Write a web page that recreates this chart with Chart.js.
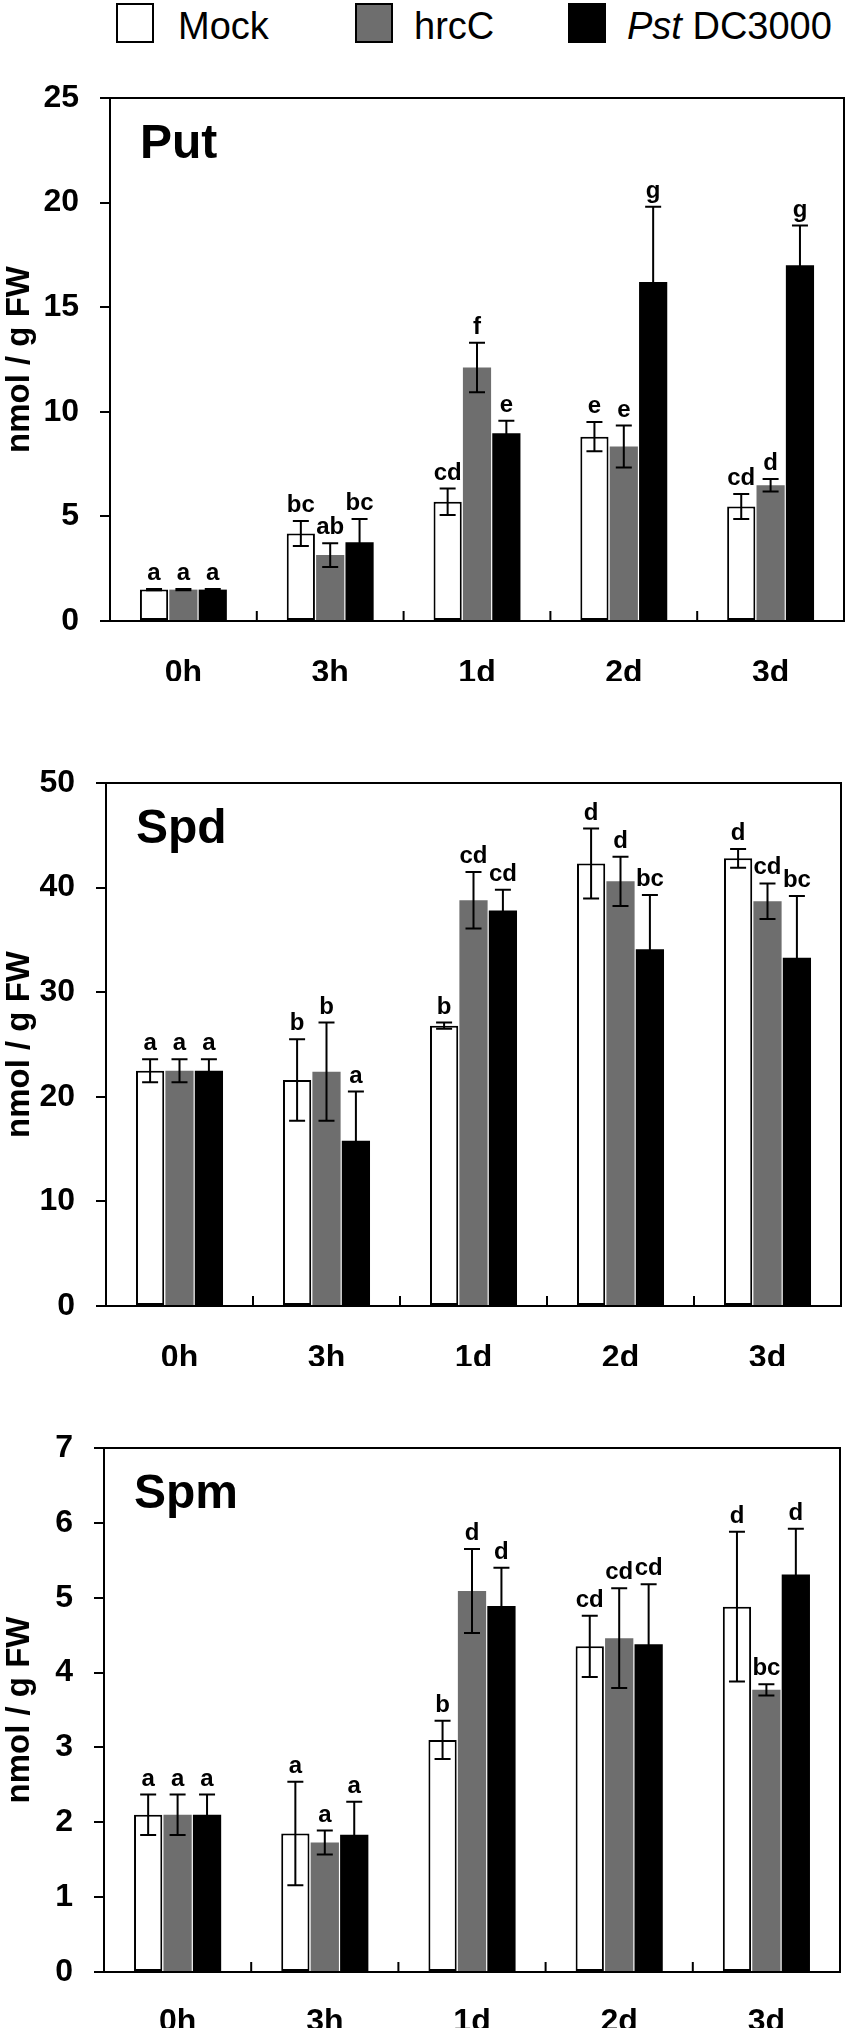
<!DOCTYPE html>
<html>
<head>
<meta charset="utf-8">
<script src="https://cdn.jsdelivr.net/npm/chart.js@4.4.0/dist/chart.umd.min.js"></script>
<style>
  html, body { margin: 0; padding: 0; background: #fff; }
  body { width: 847px; height: 2028px; position: relative; overflow: hidden; font-family: "Liberation Sans", Arial, sans-serif; }
  .box { position: absolute; box-sizing: border-box; border: 2px solid #000; width: 38px; height: 40px; top: 3px; }
  .lt { position: absolute; font-size: 38px; line-height: 38px; top: 7px; white-space: nowrap; color: #000; }
  canvas { position: absolute; left: 0; }
</style>
</head>
<body>
<div class="box" style="left:116px;background:#fff;"></div>
<div class="lt" style="left:178px;">Mock</div>
<div class="box" style="left:355px;background:#6e6e6e;"></div>
<div class="lt" style="left:414px;">hrcC</div>
<div class="box" style="left:568px;background:#000;"></div>
<div class="lt" style="left:627px;"><i>Pst</i> DC3000</div>

<div id="w1" style="position:absolute;left:0;top:0;width:847px;height:710px;"><canvas id="c1"></canvas></div>
<div id="w2" style="position:absolute;left:0;top:720px;width:847px;height:660px;"><canvas id="c2"></canvas></div>
<div id="w3" style="position:absolute;left:0;top:1390px;width:847px;height:638px;"><canvas id="c3"></canvas></div>

<script>
// ---------------- DATA ----------------
const categories = ['0h', '3h', '1d', '2d', '3d'];
const seriesNames = ['Mock', 'hrcC', 'Pst DC3000'];

// Put (nmol / g FW)
const putMock     = [1.5, 4.18, 5.7, 8.81, 5.47];
const putMockErr  = [0.03, 0.6, 0.63, 0.7, 0.6];
const putHrcC     = [1.5, 3.15, 12.12, 8.34, 6.49];
const putHrcCErr  = [0.03, 0.57, 1.18, 1.0, 0.3];
const putPst      = [1.5, 3.77, 8.97, 16.2, 17.0];
const putPstErr   = [0.03, 1.1, 0.6, 3.6, 1.9];
const putMockLet  = ['a', 'bc', 'cd', 'e', 'cd'];
const putHrcCLet  = ['a', 'ab', 'f', 'e', 'd'];
const putPstLet   = ['a', 'bc', 'e', 'g', 'g'];
const putTicks    = [0, 5, 10, 15, 20, 25];

// Spd
const spdMock     = [22.5, 21.6, 26.8, 42.3, 42.8];
const spdMockErr  = [1.1, 3.9, 0.3, 3.35, 0.9];
const spdHrcC     = [22.5, 22.4, 38.8, 40.6, 38.7];
const spdHrcCErr  = [1.1, 4.7, 2.7, 2.35, 1.7];
const spdPst      = [22.5, 15.8, 37.8, 34.1, 33.3];
const spdPstErr   = [1.1, 4.7, 2.0, 5.2, 5.9];
const spdMockLet  = ['a', 'b', 'b', 'd', 'd'];
const spdHrcCLet  = ['a', 'b', 'cd', 'd', 'cd'];
const spdPstLet   = ['a', 'a', 'cd', 'bc', 'bc'];
const spdTicks    = [0, 10, 20, 30, 40, 50];

// Spm
const spmMock     = [2.1, 1.85, 3.1, 4.35, 4.88];
const spmMockErr  = [0.27, 0.69, 0.255, 0.41, 1.0];
const spmHrcC     = [2.1, 1.73, 5.09, 4.46, 3.77];
const spmHrcCErr  = [0.27, 0.16, 0.56, 0.665, 0.075];
const spmPst      = [2.1, 1.835, 4.89, 4.38, 5.31];
const spmPstErr   = [0.27, 0.44, 0.51, 0.8, 0.61];
const spmMockLet  = ['a', 'a', 'b', 'cd', 'd'];
const spmHrcCLet  = ['a', 'a', 'd', 'cd', 'bc'];
const spmPstLet   = ['a', 'a', 'd', 'cd', 'd'];
const spmTicks    = [0, 1, 2, 3, 4, 5, 6, 7];

// ---------------- STYLE ----------------
const FONT = '"Liberation Sans", Arial, sans-serif';
const fills = ['#ffffff', '#6e6e6e', '#000000'];
const borders = [2, 0, 0];

const decor = {
  id: 'decor',
  afterDatasetsDraw(chart, args, opts) {
    const ctx = chart.ctx;
    const y = chart.scales.y;
    ctx.save();
    ctx.strokeStyle = '#000';
    ctx.fillStyle = '#000';
    ctx.lineWidth = 2;
    chart.data.datasets.forEach((ds, di) => {
      const meta = chart.getDatasetMeta(di);
      meta.data.forEach((bar, i) => {
        const v = ds.data[i], e = ds.errs[i];
        const yt = y.getPixelForValue(v + e);
        const yb = y.getPixelForValue(v - e);
        const x = bar.x;
        ctx.beginPath();
        ctx.moveTo(x, yt); ctx.lineTo(x, yb);
        ctx.moveTo(x - 8, yt); ctx.lineTo(x + 8, yt);
        ctx.moveTo(x - 8, yb); ctx.lineTo(x + 8, yb);
        ctx.stroke();
        ctx.font = 'bold 24px ' + FONT;
        ctx.textAlign = 'center';
        ctx.textBaseline = 'alphabetic';
        ctx.fillText(ds.letters[i], x, yt - 9);
      });
    });
    ctx.restore();
  },
  afterDraw(chart, args, opts) {
    const ctx = chart.ctx;
    const a = chart.chartArea;
    const xs = chart.scales.x;
    ctx.save();
    ctx.strokeStyle = '#000';
    ctx.lineWidth = 2;
    ctx.strokeRect(a.left, a.top, a.right - a.left, a.bottom - a.top);
    // inward category separator ticks
    ctx.beginPath();
    for (let i = 1; i < categories.length; i++) {
      const px = (xs.getPixelForTick(i - 1) + xs.getPixelForTick(i)) / 2;
      ctx.moveTo(px, a.bottom);
      ctx.lineTo(px, a.bottom - 10);
    }
    ctx.stroke();
    ctx.fillStyle = '#000';
    ctx.font = 'bold 48px ' + FONT;
    ctx.textAlign = 'left';
    ctx.textBaseline = 'alphabetic';
    ctx.fillText(opts.title, a.left + 30, a.top + 60);
    ctx.restore();
  }
};

function makeChart(canvasId, canvasTop, canvasH, area, title, vals, errs, lets, ticks) {
  const axisH = 60;
  const datasets = vals.map((d, k) => ({
    label: seriesNames[k],
    data: d,
    errs: errs[k],
    letters: lets[k],
    backgroundColor: fills[k],
    borderColor: '#000',
    borderWidth: borders[k],
    borderSkipped: false,
    categoryPercentage: 0.6,
    barPercentage: 0.96
  }));
  return new Chart(document.getElementById(canvasId), {
    type: 'bar',
    data: { labels: categories, datasets },
    plugins: [decor],
    options: {
      responsive: true,
      maintainAspectRatio: false,
      animation: false,
      devicePixelRatio: 1,
      layout: {
        padding: {
          left: 0,
          right: 847 - area.R,
          top: area.T - canvasTop,
          bottom: canvasTop + canvasH - area.B - axisH
        }
      },
      plugins: {
        legend: { display: false },
        tooltip: { enabled: false },
        decor: { title }
      },
      scales: {
        x: {
          grid: { display: false },
          border: { display: true, color: '#000', width: 2 },
          ticks: { color: '#000', font: { family: FONT, size: 32, weight: 'bold' }, padding: area.lp, maxRotation: 0 },
          afterFit(s) { s.height = axisH; }
        },
        y: {
          min: ticks[0],
          max: ticks[ticks.length - 1],
          afterBuildTicks(s) { s.ticks = ticks.map(v => ({ value: v })); },
          grid: { drawOnChartArea: false, drawTicks: true, tickLength: 10, color: '#000', lineWidth: 2 },
          border: { display: true, color: '#000', width: 2 },
          ticks: { color: '#000', font: { family: FONT, size: 32, weight: 'bold' }, padding: 21 },
          title: {
            display: true, text: 'nmol / g FW', color: '#000',
            font: { family: FONT, size: 33, weight: 'bold' }, padding: 0
          },
          afterFit(s) { s.width = area.L; }
        }
      }
    }
  });
}

makeChart('c1', 0, 710, { L: 110, R: 844, T: 98, B: 621, lp: 25 }, 'Put',
  [putMock, putHrcC, putPst], [putMockErr, putHrcCErr, putPstErr], [putMockLet, putHrcCLet, putPstLet], putTicks);
makeChart('c2', 720, 660, { L: 106, R: 841, T: 783, B: 1306, lp: 25 }, 'Spd',
  [spdMock, spdHrcC, spdPst], [spdMockErr, spdHrcCErr, spdPstErr], [spdMockLet, spdHrcCLet, spdPstLet], spdTicks);
makeChart('c3', 1390, 638, { L: 104, R: 840, T: 1448, B: 1972, lp: 23 }, 'Spm',
  [spmMock, spmHrcC, spmPst], [spmMockErr, spmHrcCErr, spmPstErr], [spmMockLet, spmHrcCLet, spmPstLet], spmTicks);
</script>
</body>
</html>
